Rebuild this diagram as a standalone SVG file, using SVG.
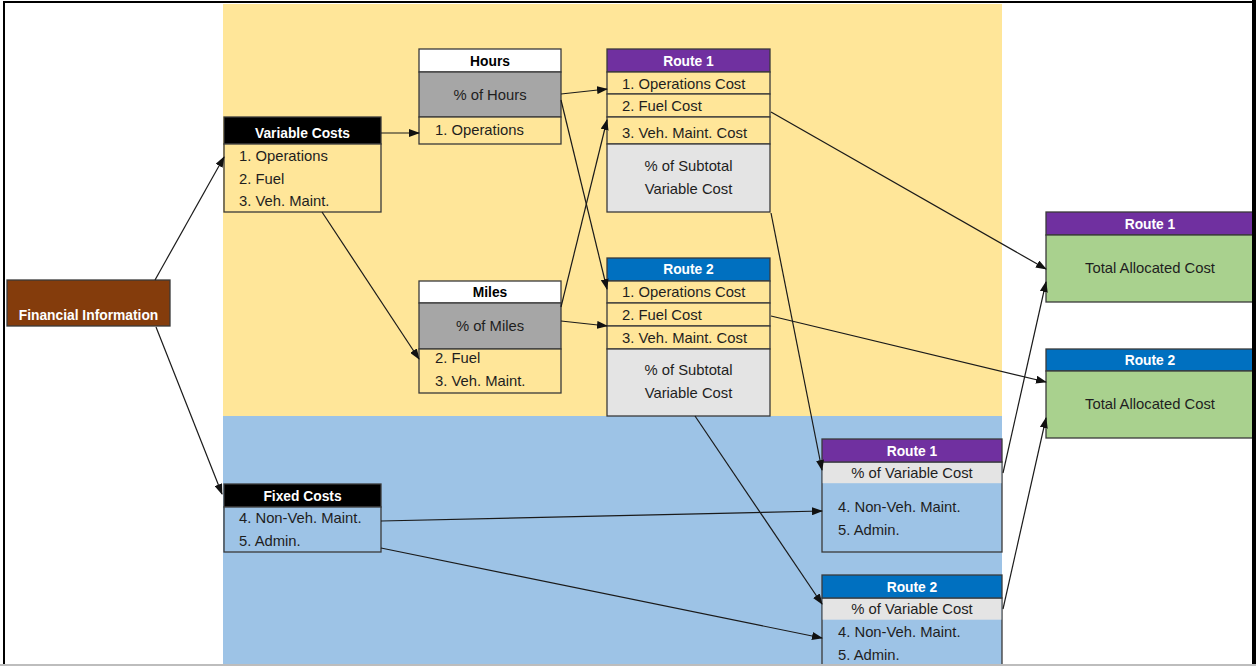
<svg xmlns="http://www.w3.org/2000/svg" width="1256" height="666" viewBox="0 0 1256 666">
<defs>
<marker id="arr" markerUnits="userSpaceOnUse" markerWidth="11" markerHeight="8" refX="10" refY="4" orient="auto">
<path d="M0,0 L11,4 L0,8 z" fill="#111"/>
</marker>
<style>
.bx{stroke:#3a3a3a;stroke-width:1.3}
.t{font-family:"Liberation Sans",Arial,sans-serif;font-size:14.8px;fill:#1e1e1e}
.c{text-anchor:middle}
.h{font-family:"Liberation Sans",Arial,sans-serif;font-size:13.8px;font-weight:bold;fill:#fff;text-anchor:middle}
.hb{fill:#000}
.yel{fill:#FFE699}
.blu{fill:#9DC3E6}
.gry{fill:#A6A6A6}
.lgr{fill:#E4E4E4}
.pur{fill:#7030A0}
.bl2{fill:#0070C0}
.grn{fill:#A9D18E}
.cn line{stroke:#1a1a1a;stroke-width:1.2;marker-end:url(#arr)}
</style>
</defs>
<rect x="0" y="0" width="1256" height="666" fill="#fff"/>
<rect x="223" y="4" width="779" height="412" fill="#FFE699"/>
<rect x="223" y="416" width="779" height="250" fill="#9DC3E6"/>

<g id="financial">
<rect class="bx" x="7" y="280" width="163" height="46" fill="#843C0C"/>
<text class="h" x="88.5" y="320" font-size="13">Financial Information</text>
</g>

<g id="variable-costs">
<rect class="bx" x="224" y="117" width="157" height="27" fill="#000"/>
<rect class="bx yel" x="224" y="144" width="157" height="68"/>
<text class="h" x="302.5" y="138">Variable Costs</text>
<text class="t" x="239" y="161">1. Operations</text>
<text class="t" x="239" y="184">2. Fuel</text>
<text class="t" x="239" y="206">3. Veh. Maint.</text>
</g>

<g id="hours">
<rect class="bx" x="419" y="49" width="142" height="23" fill="#fff"/>
<rect class="bx gry" x="419" y="72" width="142" height="45"/>
<rect class="bx yel" x="419" y="117" width="142" height="27"/>
<text class="h hb" x="490" y="66">Hours</text>
<text class="t c" x="490" y="100">% of Hours</text>
<text class="t" x="435" y="135">1. Operations</text>
</g>

<g id="route1-var">
<rect class="bx pur" x="607" y="49" width="163" height="23"/>
<rect class="bx yel" x="607" y="72" width="163" height="22"/>
<rect class="bx yel" x="607" y="94" width="163" height="23"/>
<rect class="bx yel" x="607" y="117" width="163" height="27"/>
<rect class="bx lgr" x="607" y="144" width="163" height="68"/>
<text class="h" x="688.5" y="66">Route 1</text>
<text class="t" x="622" y="89">1. Operations Cost</text>
<text class="t" x="622" y="111">2. Fuel Cost</text>
<text class="t" x="622" y="138">3. Veh. Maint. Cost</text>
<text class="t c" x="688.5" y="171">% of Subtotal</text>
<text class="t c" x="688.5" y="194">Variable Cost</text>
</g>

<g id="miles">
<rect class="bx" x="419" y="281" width="142" height="22" fill="#fff"/>
<rect class="bx gry" x="419" y="303" width="142" height="46"/>
<rect class="bx yel" x="419" y="349" width="142" height="44"/>
<text class="h hb" x="490" y="297">Miles</text>
<text class="t c" x="490" y="331">% of Miles</text>
<text class="t" x="435" y="363">2. Fuel</text>
<text class="t" x="435" y="386">3. Veh. Maint.</text>
</g>

<g id="route2-var">
<rect class="bx bl2" x="607" y="258" width="163" height="23"/>
<rect class="bx yel" x="607" y="281" width="163" height="22"/>
<rect class="bx yel" x="607" y="303" width="163" height="23"/>
<rect class="bx yel" x="607" y="326" width="163" height="23"/>
<rect class="bx lgr" x="607" y="349" width="163" height="67"/>
<text class="h" x="688.5" y="274">Route 2</text>
<text class="t" x="622" y="297">1. Operations Cost</text>
<text class="t" x="622" y="320">2. Fuel Cost</text>
<text class="t" x="622" y="343">3. Veh. Maint. Cost</text>
<text class="t c" x="688.5" y="375">% of Subtotal</text>
<text class="t c" x="688.5" y="398">Variable Cost</text>
</g>

<g id="fixed-costs">
<rect class="bx" x="224" y="484" width="157" height="23" fill="#000"/>
<rect class="bx blu" x="224" y="507" width="157" height="45"/>
<text class="h" x="302.5" y="501">Fixed Costs</text>
<text class="t" x="239" y="523">4. Non-Veh. Maint.</text>
<text class="t" x="239" y="546">5. Admin.</text>
</g>

<g id="route1-fixed">
<rect class="bx blu" x="822" y="462" width="180" height="90"/>
<rect class="lgr" x="822.7" y="462.7" width="178.6" height="20.5"/>
<rect class="bx pur" x="822" y="439" width="180" height="23"/>
<text class="h" x="912" y="456">Route 1</text>
<text class="t c" x="912" y="478">% of Variable Cost</text>
<text class="t" x="838" y="512">4. Non-Veh. Maint.</text>
<text class="t" x="838" y="535">5. Admin.</text>
</g>

<g id="route2-fixed">
<rect class="bx blu" x="822" y="598" width="180" height="72"/>
<rect class="lgr" x="822.7" y="598.7" width="178.6" height="21"/>
<rect class="bx bl2" x="822" y="575" width="180" height="23"/>
<text class="h" x="912" y="592">Route 2</text>
<text class="t c" x="912" y="614">% of Variable Cost</text>
<text class="t" x="838" y="637">4. Non-Veh. Maint.</text>
<text class="t" x="838" y="660">5. Admin.</text>
</g>

<g id="route1-total">
<rect class="bx pur" x="1046" y="212" width="210" height="23"/>
<rect class="bx grn" x="1046" y="235" width="210" height="67"/>
<text class="h" x="1150" y="229">Route 1</text>
<text class="t c" x="1150" y="273">Total Allocated Cost</text>
</g>

<g id="route2-total">
<rect class="bx bl2" x="1046" y="349" width="210" height="22"/>
<rect class="bx grn" x="1046" y="371" width="210" height="67"/>
<text class="h" x="1150" y="365">Route 2</text>
<text class="t c" x="1150" y="409">Total Allocated Cost</text>
</g>

<g id="connectors" class="cn">
<line x1="155" y1="280" x2="224" y2="157"/>
<line x1="156" y1="327" x2="222" y2="494"/>
<line x1="381" y1="133" x2="419" y2="133"/>
<line x1="322" y1="212" x2="419" y2="359"/>
<line x1="561" y1="94" x2="607" y2="89"/>
<line x1="561" y1="100" x2="607" y2="289"/>
<line x1="561" y1="307" x2="607" y2="120"/>
<line x1="561" y1="321" x2="607" y2="326"/>
<line x1="771" y1="112" x2="1046" y2="269"/>
<line x1="771" y1="316" x2="1046" y2="382"/>
<line x1="771" y1="213" x2="822" y2="470"/>
<line x1="695" y1="416" x2="822" y2="604"/>
<line x1="381" y1="521" x2="822" y2="511"/>
<line x1="381" y1="548" x2="822" y2="638"/>
<line x1="1003" y1="473" x2="1046" y2="282"/>
<line x1="1003" y1="609" x2="1046" y2="418"/>
</g>

<g id="frame">
<rect x="4" y="2" width="1249" height="663" fill="none" stroke="#000" stroke-width="2"/>
<line x1="1254" y1="0" x2="1254" y2="666" stroke="#000" stroke-width="4"/>
<line x1="0" y1="665" x2="1256" y2="665" stroke="#bdbdbd" stroke-width="2"/>
</g>
</svg>
